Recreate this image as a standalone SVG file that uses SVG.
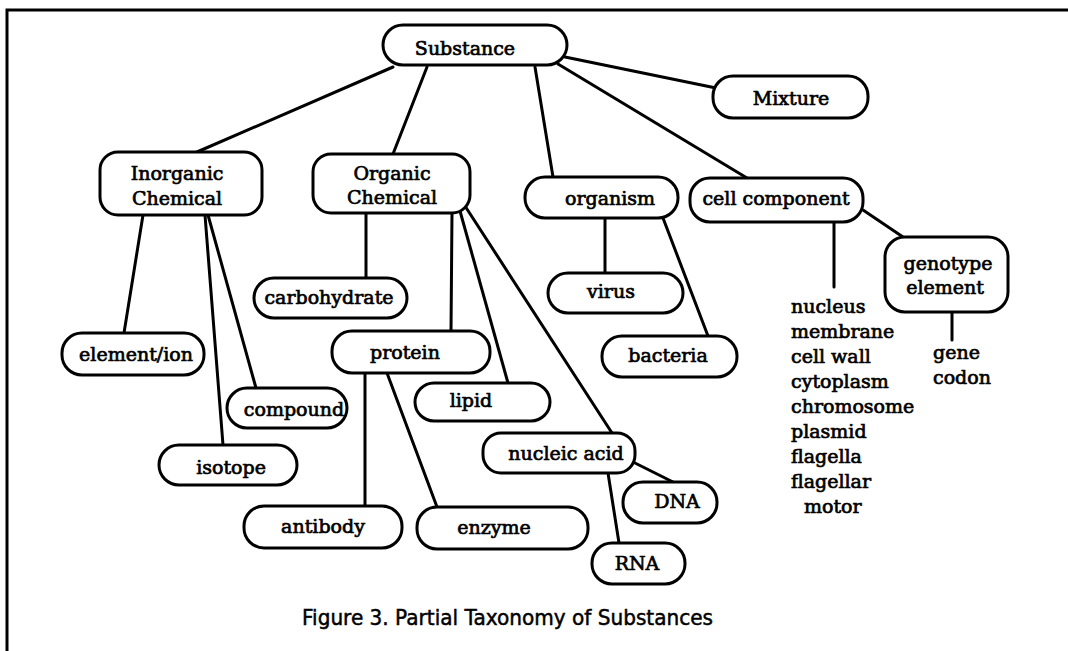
<svg xmlns="http://www.w3.org/2000/svg" width="1068" height="651" viewBox="0 0 1068 651">
<style>
.n rect{fill:#fff;stroke:#000;stroke-width:3}
text{font-family:"DejaVu Serif","Liberation Serif",serif;font-size:19px;fill:#000;stroke:#000;stroke-width:0.7;text-anchor:middle}
.l text{text-anchor:start}
#edges line{stroke:#000;stroke-width:3;stroke-linecap:round}
.cap{font-family:"DejaVu Sans","Liberation Sans",sans-serif;font-size:21px;text-anchor:start;stroke-width:0.5}
</style>
<rect x="0" y="0" width="1068" height="651" fill="#fff"/>
<path d="M7,651 V10 H1068" fill="none" stroke="#000" stroke-width="3"/>
<g id="edges">
<line x1="393" y1="67" x2="197" y2="152"/>
<line x1="427" y1="67" x2="393" y2="154"/>
<line x1="535" y1="67" x2="553" y2="177"/>
<line x1="558" y1="64" x2="747" y2="178"/>
<line x1="565" y1="57" x2="716" y2="88"/>
<line x1="143" y1="215" x2="124" y2="333"/>
<line x1="205" y1="215" x2="223" y2="445"/>
<line x1="208" y1="215" x2="256" y2="388"/>
<line x1="366" y1="213" x2="366" y2="278"/>
<line x1="452" y1="213" x2="451" y2="331"/>
<line x1="460" y1="211" x2="508" y2="383"/>
<line x1="465" y1="206" x2="612" y2="433"/>
<line x1="365" y1="373" x2="365" y2="506"/>
<line x1="387" y1="373" x2="437" y2="507"/>
<line x1="633" y1="462" x2="673" y2="482"/>
<line x1="608" y1="473" x2="619" y2="543"/>
<line x1="605" y1="218" x2="605" y2="273"/>
<line x1="663" y1="218" x2="708" y2="336"/>
<line x1="834" y1="222" x2="834" y2="287"/>
<line x1="863" y1="210" x2="903" y2="237"/>
<line x1="952" y1="312" x2="952" y2="340"/>
</g>
<g id="substance" class="n"><rect x="383" y="25" width="184" height="40" rx="20"/><text x="465" y="55">Substance</text></g>
<g id="mixture" class="n"><rect x="713" y="76" width="155" height="42" rx="20"/><text x="791" y="105">Mixture</text></g>
<g id="inorganic" class="n"><rect x="100" y="152" width="162" height="63" rx="18"/><text x="177" y="180">Inorganic</text><text x="177" y="205">Chemical</text></g>
<g id="organic" class="n"><rect x="313" y="154" width="157" height="59" rx="18"/><text x="392" y="180">Organic</text><text x="392" y="204">Chemical</text></g>
<g id="organism" class="n"><rect x="525" y="177" width="153" height="41" rx="20"/><text x="610" y="205">organism</text></g>
<g id="cellcomponent" class="n"><rect x="690" y="178" width="173" height="44" rx="20"/><text x="776" y="205">cell component</text></g>
<g id="genotype" class="n"><rect x="885" y="237" width="123" height="75" rx="20"/><text x="948" y="270">genotype</text><text x="945" y="294">element</text></g>
<g id="carbohydrate" class="n"><rect x="254" y="278" width="153" height="40" rx="20"/><text x="329" y="304">carbohydrate</text></g>
<g id="elemention" class="n"><rect x="62" y="333" width="142" height="42" rx="20"/><text x="136" y="361">element/ion</text></g>
<g id="protein" class="n"><rect x="332" y="331" width="158" height="42" rx="20"/><text x="405" y="359">protein</text></g>
<g id="compound" class="n"><rect x="227" y="388" width="120" height="40" rx="20"/><text x="294" y="416">compound</text></g>
<g id="lipid" class="n"><rect x="415" y="383" width="135" height="38" rx="19"/><text x="471" y="407">lipid</text></g>
<g id="virus" class="n"><rect x="548" y="273" width="135" height="40" rx="20"/><text x="611" y="298">virus</text></g>
<g id="bacteria" class="n"><rect x="602" y="336" width="135" height="41" rx="20"/><text x="668" y="362">bacteria</text></g>
<g id="isotope" class="n"><rect x="159" y="445" width="138" height="40" rx="20"/><text x="231" y="474">isotope</text></g>
<g id="antibody" class="n"><rect x="244" y="506" width="158" height="42" rx="20"/><text x="323" y="533">antibody</text></g>
<g id="enzyme" class="n"><rect x="417" y="507" width="171" height="42" rx="20"/><text x="494" y="534">enzyme</text></g>
<g id="nucleicacid" class="n"><rect x="483" y="433" width="152" height="40" rx="18"/><text x="566" y="460">nucleic acid</text></g>
<g id="dna" class="n"><rect x="623" y="482" width="94" height="41" rx="20"/><text x="677" y="508">DNA</text></g>
<g id="rna" class="n"><rect x="592" y="543" width="93" height="41" rx="20"/><text x="637" y="570">RNA</text></g>
<g id="cellparts" class="l">
<text x="791" y="313">nucleus</text>
<text x="791" y="338">membrane</text>
<text x="791" y="363">cell wall</text>
<text x="791" y="388">cytoplasm</text>
<text x="791" y="413">chromosome</text>
<text x="791" y="438">plasmid</text>
<text x="791" y="463">flagella</text>
<text x="791" y="488">flagellar</text>
<text x="804" y="513">motor</text>
</g>
<g id="genes" class="l">
<text x="933" y="359">gene</text>
<text x="933" y="384">codon</text>
</g>
<text class="cap" x="302" y="625" textLength="411" lengthAdjust="spacingAndGlyphs">Figure 3. Partial Taxonomy of Substances</text>
</svg>
